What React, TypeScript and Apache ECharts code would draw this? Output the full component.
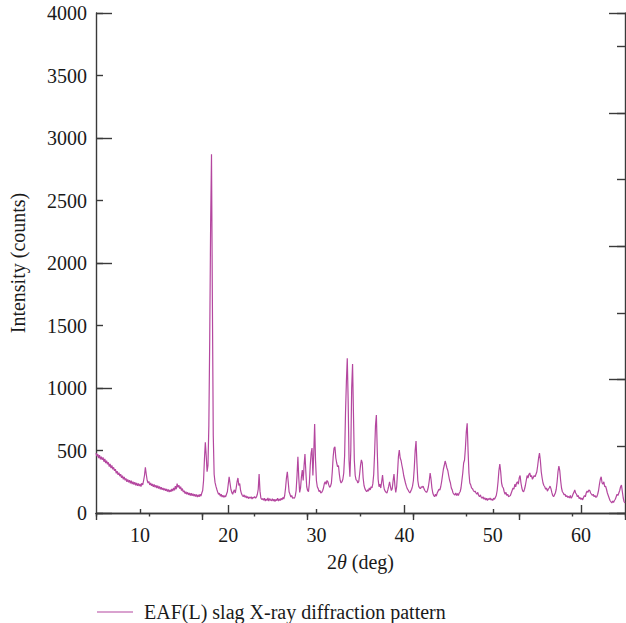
import React, { useEffect, useRef } from "react";
import * as echarts from "echarts";

// 2θ grid start/step (deg) and intensity readings (counts), one row per degree
const thetaStart = 5;
const thetaStep = 0.1;
const intensity: number[] = [
  480, 455, 470, 440, 462, 430, 450, 425, 445, 410,
  432, 400, 418, 390, 405, 372, 392, 360, 380, 350,
  365, 338, 350, 318, 335, 305, 322, 295, 310, 282,
  298, 270, 288, 262, 276, 250, 268, 245, 262, 238,
  258, 232, 250, 228, 246, 222, 240, 218, 236, 215,
  232, 212, 238, 225, 260, 300, 365, 310, 262, 240,
  252, 225, 240, 218, 232, 210, 228, 205, 222, 200,
  218, 196, 212, 190, 206, 186, 200, 182, 196, 178,
  192, 172, 188, 168, 185, 170, 192, 175, 200, 182,
  215, 190, 235, 205, 222, 195, 210, 180, 195, 168,
  178, 155, 170, 150, 165, 145, 160, 140, 158, 138,
  155, 135, 150, 132, 148, 128, 145, 130, 150, 135,
  160, 180, 260, 430, 565, 460, 330, 380, 700, 1400,
  2300, 2870, 1700, 620, 310, 245, 215, 190, 168, 150,
  158, 135, 150, 128, 142, 125, 138, 130, 150, 170,
  230, 290, 240, 190, 165, 150, 172, 185, 160, 200,
  250, 280, 220, 235, 180, 155, 140, 130, 145, 125,
  138, 120, 132, 115, 128, 118, 130, 112, 126, 120,
  132, 118, 128, 150, 190, 312, 175, 120, 108, 115,
  102, 118, 96, 112, 100, 120, 95, 115, 104, 98,
  115, 96, 110, 92, 108, 100, 118, 95, 112, 100,
  118, 105, 125, 112, 140, 200, 280, 330, 250, 170,
  150, 128, 140, 118, 122, 118, 135, 180, 300, 450,
  280, 165, 200, 290, 344, 260, 380, 472, 330, 210,
  180, 170, 240, 380, 480, 520, 300, 480, 712, 420,
  260, 210, 195, 172, 180, 160, 165, 178, 200, 235,
  250, 230, 260, 250, 225, 205, 215, 240, 330, 450,
  520, 530, 440, 400, 370, 380, 310, 260, 240, 250,
  270, 320, 460, 800, 1050, 1237, 900, 420, 290, 500,
  1000, 1192, 800, 420, 300, 265, 260, 240, 250, 310,
  380, 425, 400, 280, 220, 195, 180, 170, 185, 175,
  200, 185, 210, 200, 235, 310, 480, 700, 784, 500,
  270, 210, 230, 200, 250, 304, 230, 190, 175, 165,
  160, 185, 215, 250, 210, 180, 195, 260, 312, 220,
  165, 210, 320, 450, 504, 440, 420, 380, 345, 300,
  270, 240, 215, 195, 184, 170, 160, 175, 190, 215,
  260, 360, 500, 576, 400, 260, 215, 200, 195, 210,
  205, 215, 195, 180, 170, 165, 180, 210, 260, 320,
  270, 200, 160, 140, 130, 150, 135, 160, 175, 190,
  184, 210, 250, 300, 350, 380, 416, 390, 360, 340,
  300, 264, 240, 200, 185, 160, 150, 144, 160, 140,
  155, 140, 160, 170, 200, 260, 320, 400, 424, 520,
  650, 717, 500, 320, 240, 225, 200, 195, 180, 170,
  175, 160, 150, 165, 140, 130, 145, 125, 118, 130,
  110, 122, 104, 118, 100, 115, 108, 120, 104, 112,
  100, 118, 110, 125, 140, 180, 250, 340, 392, 330,
  240, 210, 200, 170, 150, 165, 140, 150, 130, 135,
  140, 160, 180, 200, 190, 230, 210, 240, 250, 230,
  280, 300, 240, 200, 175, 170, 190, 220, 260, 300,
  280, 310, 320, 290, 300, 270, 285, 300, 290, 310,
  330, 380, 440, 480, 420, 330, 280, 240, 220, 210,
  190, 200, 175, 190, 200, 215, 195, 165, 140, 130,
  145, 160, 190, 250, 330, 376, 340, 260, 200, 170,
  160, 145, 150, 130, 140, 125, 132, 120, 140, 118,
  130, 150, 165, 184, 160, 150, 130, 140, 115, 125,
  108, 120, 105, 125, 140, 130, 160, 175, 165, 184,
  180, 160, 150, 140, 150, 130, 140, 125, 130, 150,
  180, 230, 270, 290, 240, 230, 250, 210, 215, 190,
  160, 140, 120, 100, 90, 80, 95, 85, 100, 110,
  130, 150, 140, 160, 180, 210, 224, 170, 120, 90,
  80,
];

const xLabelValues = [10, 20, 30, 40, 50, 60];
const xShortTicks = [10, 30, 50];
const xLongTicks = [20, 40, 60];
const seriesName = "EAF(L) slag X-ray diffraction pattern";

const FONT = "Liberation Serif";
const AXIS_COLOR = "#3a3a3a";
const LINE_COLOR = "#b4479f";
const TEXT_COLOR = "#1a1a1a";

export default function App() {
  const ref = useRef<HTMLDivElement>(null);

  useEffect(() => {
    if (!ref.current) return;
    const chart = echarts.init(ref.current, undefined, { renderer: "svg" });
    const data = intensity.map((v, i) => [
      Math.round((thetaStart + i * thetaStep) * 10) / 10,
      v,
    ]);
    const axisLine = { show: true, lineStyle: { color: AXIS_COLOR, width: 1.4 } };
    const noLine = { show: false };
    const tickStyle = { color: AXIS_COLOR, width: 1.4 };
    const labelStyle = {
      fontFamily: FONT,
      fontSize: 20,
      color: TEXT_COLOR,
      formatter: (v: number) => `{n|${v}}`,
      rich: { n: { fontFamily: FONT, fontSize: 20, color: TEXT_COLOR } },
    };

    chart.setOption({
      animation: false,
      textStyle: { fontFamily: FONT },
      grid: { left: 96, right: 1, top: 13, bottom: 110, containLabel: false },
      legend: {
        show: true,
        left: 92,
        top: 597,
        itemWidth: 36,
        itemHeight: 20,
        itemGap: 10,
        textStyle: { fontFamily: FONT, fontSize: 20, color: TEXT_COLOR, padding: [0, 0, 0, 6] },
        data: [{ name: seriesName, icon: "path://M0,10 L36,10 L36,11 L0,11 Z" }],
      },
      xAxis: [
        {
          type: "value",
          position: "bottom",
          min: 5,
          max: 65,
          axisLine,
          splitLine: { show: false },
          axisTick: { show: true, inside: true, length: 4, customValues: xShortTicks, lineStyle: tickStyle },
          axisLabel: { ...labelStyle, margin: 12, customValues: xLabelValues },
          name: "2{i|θ} (deg)",
          nameLocation: "middle",
          nameGap: 39,
          nameTextStyle: {
            fontFamily: FONT,
            fontSize: 20,
            color: TEXT_COLOR,
            rich: { i: { fontFamily: FONT, fontSize: 20, fontStyle: "italic", color: TEXT_COLOR } },
          },
        },
        {
          type: "value",
          position: "bottom",
          offset: 0,
          min: 5,
          max: 65,
          axisLine: noLine,
          splitLine: { show: false },
          axisTick: { show: true, inside: true, length: 8, customValues: xLongTicks, lineStyle: tickStyle },
          axisLabel: { show: false },
        },
        {
          type: "value",
          position: "top",
          min: 0,
          max: 10,
          interval: 1,
          axisLine,
          splitLine: { show: false },
          axisTick: { show: true, inside: true, length: 3.5, lineStyle: tickStyle },
          axisLabel: { show: false },
        },
        {
          type: "value",
          position: "top",
          offset: 0,
          min: 0,
          max: 10,
          interval: 2,
          axisLine: noLine,
          splitLine: { show: false },
          axisTick: { show: true, inside: true, length: 7, lineStyle: tickStyle },
          axisLabel: { show: false },
        },
      ],
      yAxis: [
        {
          type: "value",
          position: "left",
          min: 0,
          max: 4000,
          interval: 500,
          axisLine,
          splitLine: { show: false },
          axisTick: { show: true, inside: true, length: 7, lineStyle: tickStyle },
          axisLabel: { ...labelStyle, margin: 9 },
          name: "Intensity (counts)",
          nameLocation: "middle",
          nameGap: 68,
          nameTextStyle: { fontFamily: FONT, fontSize: 20, color: TEXT_COLOR },
        },
        {
          type: "value",
          position: "left",
          offset: 0,
          min: 0,
          max: 4000,
          interval: 1000,
          axisLine: noLine,
          splitLine: { show: false },
          axisTick: { show: true, inside: true, length: 16, lineStyle: tickStyle },
          axisLabel: { show: false },
        },
        {
          type: "value",
          position: "right",
          min: 0,
          max: 7.5,
          interval: 1,
          axisLine,
          splitLine: { show: false },
          axisTick: { show: true, inside: true, length: 8, lineStyle: tickStyle },
          axisLabel: { show: false },
        },
        {
          type: "value",
          position: "right",
          offset: 0,
          min: 0,
          max: 7.5,
          interval: 2,
          axisLine: noLine,
          splitLine: { show: false },
          axisTick: { show: true, inside: true, length: 16, lineStyle: tickStyle },
          axisLabel: { show: false },
        },
      ],
      series: [
        {
          name: seriesName,
          type: "line",
          xAxisIndex: 0,
          yAxisIndex: 0,
          data,
          symbol: "none",
          showSymbol: false,
          lineStyle: { color: LINE_COLOR, width: 1.2 },
          itemStyle: { color: LINE_COLOR },
        },
      ],
    });
    return () => chart.dispose();
  }, []);

  return (
    <div
      ref={ref}
      style={{ position: "fixed", left: 0, top: 0, width: 626, height: 623, background: "#fff" }}
    />
  );
}
